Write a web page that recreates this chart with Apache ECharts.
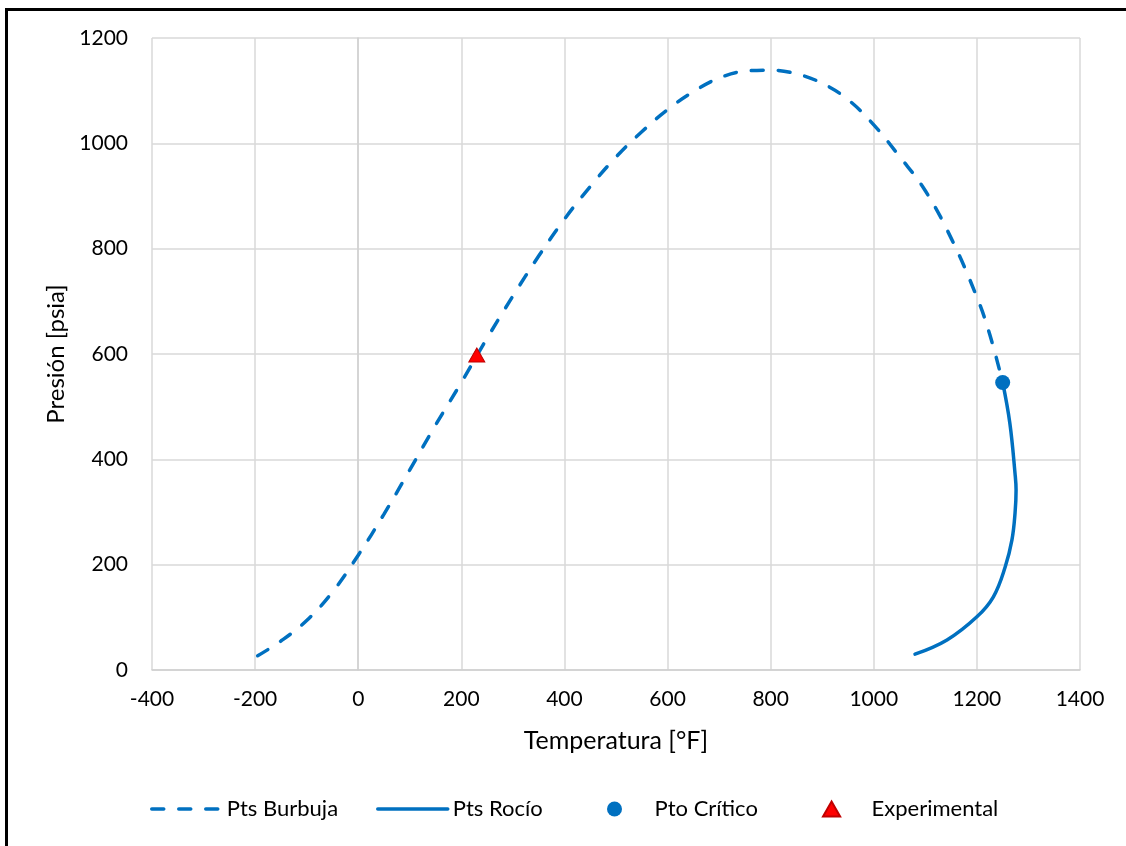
<!DOCTYPE html>
<html>
<head>
<meta charset="utf-8">
<script src="https://cdn.jsdelivr.net/npm/echarts@6/dist/echarts.min.js"></script>
<style>
  html, body { margin: 0; padding: 0; background: #fff; }
  #chart { width: 1126px; height: 846px; }
</style>
</head>
<body>
<div id="chart"></div>
<script>
// Pts Burbuja (dashed)
var bubbleT = [-195, -150, -100, -50, 0, 50, 100, 150, 200, 250, 300, 350, 400, 450, 500, 550, 600, 650, 700, 750, 800, 850, 900, 950, 1000, 1050, 1100, 1150, 1200, 1225, 1250]
var bubbleP = [27, 55, 94, 148, 218, 296, 380, 465, 546, 630, 710, 786, 856, 918, 974, 1022, 1064, 1098, 1124, 1137, 1139, 1132, 1114, 1083, 1035, 975, 910, 820, 708, 637, 546]
// Pts Rocío (solid)
var dewT = [1250, 1264, 1274, 1276, 1274, 1268, 1255, 1232, 1200, 1142, 1080]
var dewP = [546, 468, 373, 342, 298, 247, 196, 139, 101, 57, 30]
// Pto Crítico
var critT = [1250]
var critP = [546]
// Experimental
var expT = [230]
var expP = [598]

var xTicks = { min: -400, max: 1400, interval: 200 }
var yTicks = { min: 0, max: 1200, interval: 200 }

function pairs (xs, ys) {
  return xs.map(function (x, i) { return [x, ys[i]] })
}

var blue = '#0070C0'
var font = 'Lato, "Open Sans", sans-serif'

// one legend box per entry, so each can sit where the original has it
function legendAt (left, item) {
  return {
    left: left,
    top: 793,
    itemWidth: 70,
    itemHeight: 15,
    symbolKeepAspect: true,
    lineStyle: { width: 3.5, cap: 'round' },
    textStyle: { fontSize: 22, color: '#000', fontFamily: font },
    data: [item]
  }
}

var option = {
  animation: false,
  backgroundColor: '#fff',
  textStyle: { fontFamily: font },
  graphic: [
    {
      type: 'rect',
      shape: { x: 6.5, y: 9.5, width: 1200, height: 900 },
      style: { fill: 'none', stroke: '#000', lineWidth: 3 },
      silent: true
    }
  ],
  grid: { left: 152, top: 38, right: 46, bottom: 176 },
  legend: [
    legendAt(145, { name: 'Pts Burbuja', itemStyle: { opacity: 0 } }),
    legendAt(371, { name: 'Pts Rocío', itemStyle: { opacity: 0 } }),
    legendAt(602, { name: 'Pto Crítico', icon: 'circle' }),
    legendAt(817, { name: 'Experimental', icon: 'path://M8,0 L16,14 L0,14 Z' })
  ],
  xAxis: {
    type: 'value',
    min: xTicks.min,
    max: xTicks.max,
    interval: xTicks.interval,
    name: 'Temperatura [°F]',
    nameLocation: 'middle',
    nameGap: 58,
    nameTextStyle: { fontSize: 25, color: '#000', fontFamily: font },
    axisLine: { show: true, onZero: false, lineStyle: { color: '#d0d0d0', width: 1.5 } },
    axisTick: { show: false },
    axisLabel: { fontSize: 21, color: '#000', margin: 19, fontFamily: font, formatter: function (v) { return String(v) } },
    splitLine: { show: true, lineStyle: { color: '#d9d9d9', width: 1.5 } }
  },
  yAxis: {
    type: 'value',
    min: yTicks.min,
    max: yTicks.max,
    interval: yTicks.interval,
    name: 'Presión [psia]',
    nameLocation: 'middle',
    nameGap: 80,
    nameTextStyle: { fontSize: 24, color: '#000', fontFamily: font },
    axisLine: { show: true, lineStyle: { color: '#d0d0d0', width: 1.5 } },
    axisTick: { show: false },
    axisLabel: { fontSize: 21, color: '#000', margin: 24, fontFamily: font, formatter: function (v) { return String(v) } },
    splitLine: { show: true, lineStyle: { color: '#d9d9d9', width: 1.5 } }
  },
  series: [
    {
      name: 'Pts Burbuja',
      type: 'line',
      smooth: 0.4,
      symbol: 'none',
      data: pairs(bubbleT, bubbleP),
      lineStyle: { color: blue, width: 3.5, type: [12, 15], cap: 'round' },
      itemStyle: { color: blue },
      z: 3
    },
    {
      name: 'Pts Rocío',
      type: 'line',
      smooth: 0.4,
      symbol: 'none',
      data: pairs(dewT, dewP),
      lineStyle: { color: blue, width: 3.5, cap: 'round' },
      itemStyle: { color: blue },
      z: 3
    },
    {
      name: 'Pto Crítico',
      type: 'scatter',
      symbol: 'circle',
      symbolSize: 15,
      data: pairs(critT, critP),
      itemStyle: { color: blue, opacity: 1 },
      z: 4
    },
    {
      name: 'Experimental',
      type: 'scatter',
      symbol: 'triangle',
      symbolSize: [16, 14],
      data: pairs(expT, expP),
      itemStyle: { color: '#FF0000', borderColor: '#C00000', borderWidth: 1, opacity: 1 },
      z: 5
    }
  ]
}

var myChart = echarts.init(document.getElementById('chart'))
myChart.setOption(option)
</script>
</body>
</html>
